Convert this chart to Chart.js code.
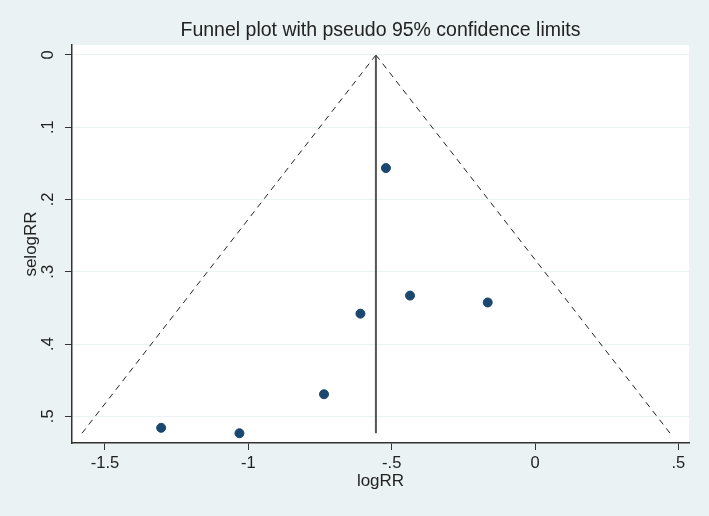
<!DOCTYPE html>
<html>
<head>
<meta charset="utf-8">
<script src="https://cdn.jsdelivr.net/npm/chart.js@4.4.1/dist/chart.umd.min.js"></script>
<style>
  html, body { margin: 0; padding: 0; background: #eaf2f3; }
  canvas { display: block; }
</style>
</head>
<body>
<canvas id="chart" width="709" height="516"></canvas>
<script>
// study estimates
const studyLogRR = [-0.52, -0.436, -0.165, -0.609, -0.736, -1.304, -1.031];
const studySeLogRR = [0.1565, 0.333, 0.3425, 0.358, 0.4695, 0.516, 0.5235];

// pooled estimate (vertical line) and pseudo 95% limits
const pooledX = [-0.555, -0.555];
const pooledY = [0, 0.5235];
const funnelLeftX = [-0.555, -1.58];
const funnelRightX = [-0.555, 0.471];
const funnelY = [0, 0.5235];

// axis ticks
const xTicks = [-1.5, -1, -0.5, 0, 0.5];
const yTicks = [0, 0.1, 0.2, 0.3, 0.4, 0.5];

const toPoints = (xs, ys) => xs.map((x, i) => ({ x: x, y: ys[i] }));

// Stata style: drop the leading zero
function stataLabel(v) {
  const s = String(Math.round(v * 10) / 10);
  return s.replace(/^0\./, ".").replace(/^-0\./, "-.");
}

// background: bluish gray outside, white plot region
const bgPlugin = {
  id: "bg",
  beforeDraw: chart => {
    const ctx = chart.ctx;
    const a = chart.chartArea;
    ctx.save();
    ctx.fillStyle = "#eaf2f3";
    ctx.fillRect(0, 0, chart.width, chart.height);
    ctx.fillStyle = "#ffffff";
    ctx.fillRect(a.left, a.top, a.right - a.left, a.bottom - a.top);
    ctx.restore();
  }
};

const font = "'Liberation Sans', Arial, sans-serif";

new Chart(document.getElementById("chart"), {
  type: "scatter",
  data: {
    datasets: [
      {
        data: toPoints(studyLogRR, studySeLogRR),
        backgroundColor: "#1a476f",
        borderColor: "#1a476f",
        pointRadius: 4.5,
        order: 0
      },
      {
        data: toPoints(pooledX, pooledY),
        showLine: true,
        borderColor: "#555555",
        borderWidth: 2,
        pointRadius: 0,
        order: 1
      },
      {
        data: toPoints(funnelLeftX, funnelY),
        showLine: true,
        borderColor: "#222222",
        borderWidth: 1,
        borderDash: [6, 5],
        pointRadius: 0,
        order: 2
      },
      {
        data: toPoints(funnelRightX, funnelY),
        showLine: true,
        borderColor: "#222222",
        borderWidth: 1,
        borderDash: [6, 5],
        pointRadius: 0,
        order: 2
      }
    ]
  },
  options: {
    responsive: false,
    animation: false,
    devicePixelRatio: 1,
    layout: { padding: { left: 0, right: 20, top: 0, bottom: 0 } },
    plugins: {
      legend: { display: false },
      tooltip: { enabled: false },
      title: {
        display: true,
        fullSize: false,
        text: "Funnel plot with pseudo 95% confidence limits",
        color: "#222",
        font: { family: font, size: 19.5, weight: "normal" },
        padding: { top: 19.3, bottom: 2.3 }
      }
    },
    scales: {
      x: {
        type: "linear",
        min: -1.615,
        max: 0.537,
        afterBuildTicks: s => { s.ticks = xTicks.map(v => ({ value: v })); },
        afterFit: s => { s.height = 73; },
        border: { display: true, color: "#333", width: 1.5 },
        grid: {
          drawOnChartArea: false,
          color: "#333",
          tickColor: "#333",
          tickLength: 7
        },
        ticks: {
          color: "#222",
          padding: 4,
          maxRotation: 0,
          font: { family: font, size: 16.5 },
          callback: v => stataLabel(v)
        },
        title: {
          display: true,
          text: "logRR",
          color: "#222",
          font: { family: font, size: 17 },
          padding: { top: 0, bottom: 24 }
        }
      },
      y: {
        type: "linear",
        reverse: true,
        min: -0.0138,
        max: 0.537,
        afterBuildTicks: s => { s.ticks = yTicks.map(v => ({ value: v })); },
        afterFit: s => { s.width = 72; },
        border: { display: true, color: "#333", width: 1.5 },
        grid: {
          color: "#eaf2f3",
          lineWidth: 1,
          tickColor: "#333",
          tickLength: 7
        },
        ticks: {
          color: "#222",
          padding: 10,
          minRotation: 90,
          maxRotation: 90,
          crossAlign: "center",
          font: { family: font, size: 16.5 },
          callback: v => stataLabel(v)
        },
        title: {
          display: true,
          text: "selogRR",
          color: "#222",
          font: { family: font, size: 17 },
          padding: { top: 21, bottom: 0 }
        }
      }
    }
  },
  plugins: [bgPlugin]
});
</script>
</body>
</html>
